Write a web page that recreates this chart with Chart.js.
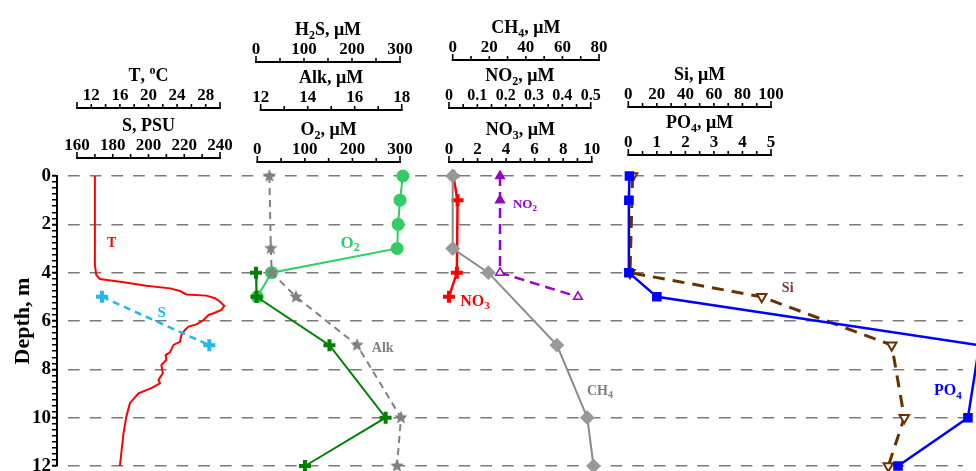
<!DOCTYPE html>
<html>
<head>
<meta charset="utf-8">
<title>Depth profiles</title>
<script src="https://cdn.jsdelivr.net/npm/chart.js@4.4.1/dist/chart.umd.min.js"></script>
<style>
    html, body { margin: 0; padding: 0; background: #fff; overflow: hidden; }
    canvas { display: block; }
</style>
</head>
<body>
<!-- a bit taller than the window so the 12 m line sits near the bottom edge, as in the original -->
<canvas id="profiles" width="976" height="482"></canvas>
<script>
// Temperature profile (CTD)
const tDepth = [0, 3.68, 4.10, 4.26, 4.40, 4.54, 4.65, 4.76, 4.90, 4.95, 5.06, 5.20, 5.37, 5.54, 5.68, 5.75, 5.96, 6.14, 6.23, 6.37, 6.58, 6.86, 6.99, 7.30, 7.41, 7.61, 7.82, 8.16, 8.44, 8.58, 8.78, 8.99, 9.40, 9.96, 10.65, 12];
const tValue = [12.5, 12.5, 12.7, 13.2, 16.5, 19.7, 23.0, 24.4, 25.3, 28.1, 29.3, 30.0, 30.6, 30.2, 29.1, 28.4, 27.7, 26.7, 25.6, 25.1, 24.6, 24.4, 23.5, 23.0, 22.4, 22.5, 21.8, 22.0, 21.4, 21.6, 20.4, 18.6, 17.4, 16.9, 16.5, 16.0];

const sDepth = [5, 7];
const sValue = [174, 234];

const o2Depth = [0, 1, 2, 3, 4, 5];
const o2Value = [306, 300, 296, 294, 30, 0];

const h2sDepth = [4, 5, 7, 10, 12];
const h2sValue = [0, 1, 153, 270, 102];

const alkDepth = [0, 3, 4, 5, 7, 10, 12];
const alkValue = [12.37, 12.43, 12.47, 13.5, 16.1, 17.97, 17.8];

const ch4Depth = [0, 3, 4, 7, 10, 12];
const ch4Value = [0, 0, 19.5, 57, 73.6, 77];

const no3Depth = [0, 1, 4, 5];
const no3Value = [0.3, 0.6, 0.55, 0];

const no2Depth = [0, 1, 4, 5];
const no2Value = [0.18, 0.18, 0.18, 0.455];

const siDepth = [0, 4, 5, 7, 10, 12];
const siValue = [3, 1.2, 93.5, 184.6, 193.4, 182.2];

const po4Depth = [0, 1, 4, 5, 7, 10, 12];
const po4Value = [0.04, 0.02, 0.02, 1.0, 12.3, 11.9, 9.45];

// tick labels
const depthLabels = [0, 2, 4, 6, 8, 10, 12];
const tLabels = [12, 16, 20, 24, 28];
const sLabels = [160, 180, 200, 220, 240];
const h2sLabels = [0, 100, 200, 300];
const alkLabels = [12, 14, 16, 18];
const o2Labels = [0, 100, 200, 300];
const ch4Labels = [0, 20, 40, 60, 80];
const no2Labels = [0, 0.1, 0.2, 0.3, 0.4, 0.5];
const no3Labels = [0, 2, 4, 6, 8, 10];
const siLabels = [0, 20, 40, 60, 80, 100];
const po4Labels = [0, 1, 2, 3, 4, 5];

const FONT = '"Liberation Serif", "Times New Roman", serif';
const AREA_LEFT = 57;
const AREA_RIGHT = 963;

// where each top key axis sits (pixels) and what range it covers
const topAxes = [
    { id: 'xT',   title: 'T, ^oC',     from: 10,  to: 30,  left: 77,    right: 220,   step: 2,    labels: tLabels,   lineY: 108 },
    { id: 'xS',   title: 'S, PSU',     from: 160, to: 240, left: 77,    right: 220,   step: 10,   labels: sLabels,   lineY: 158 },
    { id: 'xH2S', title: 'H_2S, μM',   from: 0,   to: 300, left: 256,   right: 400,   step: 50,   labels: h2sLabels, lineY: 62 },
    { id: 'xAlk', title: 'Alk, μM',    from: 12,  to: 18,  left: 260.7, right: 401.7, step: 1,    labels: alkLabels, lineY: 110 },
    { id: 'xO2',  title: 'O_2, μM',    from: 0,   to: 300, left: 257.3, right: 400,   step: 50,   labels: o2Labels,  lineY: 162 },
    { id: 'xCH4', title: 'CH_4, μM',   from: 0,   to: 80,  left: 452.7, right: 599,   step: 10,   labels: ch4Labels, lineY: 60 },
    { id: 'xNO2', title: 'NO_2, μM',   from: 0,   to: 0.5, left: 449,   right: 590.7, step: 0.05, labels: no2Labels, lineY: 108, small: true },
    { id: 'xNO3', title: 'NO_3, μM',   from: 0,   to: 10,  left: 449,   right: 591.7, step: 1,    labels: no3Labels, lineY: 162 },
    { id: 'xSi',  title: 'Si, μM',     from: 0,   to: 100, left: 628.3, right: 771,   step: 10,   labels: siLabels,  lineY: 107 },
    { id: 'xPO4', title: 'PO_4, μM',   from: 0,   to: 5,   left: 628.3, right: 771,   step: 0.5,  labels: po4Labels, lineY: 155 }
];

// in-plot series names, anchored in data units
const seriesNames = [
    { text: 'T',    axis: 'xT',   x: 14.85, depth: 2.72, color: '#ff0000', size: 14 },
    { text: 'S',    axis: 'xS',   x: 207.4, depth: 5.61, color: '#22b8ee', size: 15 },
    { text: 'O_2',  axis: 'xO2',  x: 195,   depth: 2.72, color: '#33cc66', size: 17 },
    { text: 'Alk',  axis: 'xAlk', x: 17.19, depth: 7.06, color: '#808080', size: 14 },
    { text: 'NO_2', axis: 'xNO2', x: 0.268, depth: 1.13, color: '#9900cc', size: 13 },
    { text: 'NO_3', axis: 'xNO3', x: 1.82,  depth: 5.13, color: '#ff0000', size: 16 },
    { text: 'CH_4', axis: 'xCH4', x: 80.5,  depth: 8.85, color: '#808080', size: 14 },
    { text: 'Si',   axis: 'xSi',  x: 111.7, depth: 4.58, color: '#7b3b3b', size: 14 },
    { text: 'PO_4', axis: 'xPO4', x: 11.2,  depth: 8.85, color: '#0000ff', size: 16 }
];

function points(depths, values) {
    return depths.map((d, i) => ({ x: values[i], y: d }));
}

// stretch the key range so it lands on its pixel span inside the plot area
function scaleFor(ax) {
    const perPx = (ax.to - ax.from) / (ax.right - ax.left);
    return {
        type: 'linear',
        display: false,
        min: ax.from - (ax.left - AREA_LEFT) * perPx,
        max: ax.to + (AREA_RIGHT - ax.right) * perPx
    };
}

// text with '_x' subscripts and '^x' superscripts
function drawRich(ctx, text, x, y, size, color) {
    const parts = [];
    for (let i = 0; i < text.length; i++) {
        const c = text[i];
        if ((c === '_' || c === '^') && i + 1 < text.length) {
            parts.push({ s: text[i + 1], k: c });
            i++;
        } else {
            parts.push({ s: c, k: '' });
        }
    }
    const big = `bold ${size}px ${FONT}`;
    const small = `bold ${Math.round(size * 0.68)}px ${FONT}`;
    let width = 0;
    parts.forEach(p => {
        ctx.font = p.k ? small : big;
        p.w = ctx.measureText(p.s).width;
        width += p.w;
    });
    let cx = x - width / 2;
    ctx.fillStyle = color;
    ctx.textAlign = 'left';
    ctx.textBaseline = 'alphabetic';
    parts.forEach(p => {
        ctx.font = p.k ? small : big;
        const dy = p.k === '_' ? size * 0.22 : p.k === '^' ? -size * 0.38 : 0;
        ctx.fillText(p.s, cx, y + dy);
        cx += p.w;
    });
}

function starImage(color, r) {
    const c = document.createElement('canvas');
    c.width = c.height = r * 2 + 2;
    const g = c.getContext('2d');
    g.fillStyle = color;
    g.beginPath();
    for (let i = 0; i < 10; i++) {
        const a = -Math.PI / 2 + i * Math.PI / 5;
        const rr = i % 2 ? r * 0.45 : r;
        g.lineTo(c.width / 2 + rr * Math.cos(a), c.height / 2 + rr * Math.sin(a));
    }
    g.closePath();
    g.fill();
    return c;
}

const keyAxesPlugin = {
    id: 'keyAxes',
    afterDraw(chart) {
        const ctx = chart.ctx;
        ctx.save();
        topAxes.forEach(ax => {
            const sc = chart.scales[ax.id];
            const x0 = sc.getPixelForValue(ax.from);
            const x1 = sc.getPixelForValue(ax.to);
            ctx.strokeStyle = '#000';
            ctx.lineWidth = 2;
            ctx.beginPath();
            ctx.moveTo(x0 - 1, ax.lineY);
            ctx.lineTo(x1 + 1, ax.lineY);
            ctx.stroke();
            const n = Math.round((ax.to - ax.from) / ax.step);
            ctx.lineWidth = 1.6;
            for (let i = 0; i <= n; i++) {
                const px = sc.getPixelForValue(ax.from + i * ax.step);
                const len = (i === 0 || i === n) ? 6 : 4;
                ctx.beginPath();
                ctx.moveTo(px, ax.lineY);
                ctx.lineTo(px, ax.lineY - len);
                ctx.stroke();
            }
            ctx.fillStyle = '#000';
            ctx.font = `bold ${ax.small ? 16 : 17}px ${FONT}`;
            ctx.textAlign = 'center';
            ctx.textBaseline = 'alphabetic';
            ax.labels.forEach(v => {
                ctx.fillText(String(v), sc.getPixelForValue(v), ax.lineY - 8);
            });
            drawRich(ctx, ax.title, (x0 + x1) / 2, ax.lineY - 27, 18, '#000');
        });

        seriesNames.forEach(l => {
            const x = chart.scales[l.axis].getPixelForValue(l.x);
            const y = chart.scales.y.getPixelForValue(l.depth);
            drawRich(ctx, l.text, x, y + l.size * 0.35, l.size, l.color);
        });
        ctx.restore();
    }
};

const scales = {
    y: {
        type: 'linear',
        position: 'left',
        reverse: true,
        min: 0,
        max: 12,
        afterFit(scale) {
            scale.width = AREA_LEFT;
        },
        title: {
            display: true,
            text: 'Depth, m',
            color: '#000',
            font: { family: FONT, size: 22, weight: 'bold' },
            padding: { top: 10, bottom: 0 }
        },
        ticks: {
            stepSize: 0.25,
            autoSkip: false,
            color: '#000',
            padding: 1,
            font: { family: FONT, size: 19, weight: 'bold' },
            callback: v => depthLabels.includes(v) ? String(v) : ''
        },
        grid: {
            color: ctx => (ctx.tick && ctx.tick.value % 2 === 0) ? '#7a7a7a' : 'rgba(0,0,0,0)',
            lineWidth: 1.5,
            tickColor: '#000',
            tickLength: 5,
            tickWidth: ctx => (ctx.tick && ctx.tick.value % 2 === 0) ? 2 : 1.5
        },
        border: { display: true, color: '#000', width: 2, dash: [11.7, 10], dashOffset: 11.7 }
    }
};
topAxes.forEach(ax => { scales[ax.id] = scaleFor(ax); });

const starGray = starImage('#808080', 7);

const datasets = [
    {
        label: 'S', xAxisID: 'xS', data: points(sDepth, sValue),
        borderColor: '#22b8ee', borderWidth: 2.5, borderDash: [7, 5],
        pointStyle: 'cross', pointRadius: 6, pointBorderWidth: 4, pointBorderColor: '#22b8ee'
    },
    {
        label: 'T', xAxisID: 'xT', data: points(tDepth, tValue),
        borderColor: '#ff0000', borderWidth: 2, pointRadius: 0
    },
    {
        label: 'H2S', xAxisID: 'xH2S', data: points(h2sDepth, h2sValue),
        borderColor: '#008000', borderWidth: 2,
        pointStyle: 'cross', pointRadius: 6, pointBorderWidth: 4, pointBorderColor: '#008000'
    },
    {
        label: 'Alk', xAxisID: 'xAlk', data: points(alkDepth, alkValue),
        borderColor: '#808080', borderWidth: 2, borderDash: [7, 5],
        pointStyle: starGray, pointRadius: 7
    },
    {
        label: 'O2', xAxisID: 'xO2', data: points(o2Depth, o2Value),
        borderColor: '#33cc66', borderWidth: 2,
        pointStyle: 'circle', pointRadius: 5.5, pointBackgroundColor: '#33cc66', pointBorderColor: '#33cc66'
    },
    {
        label: 'CH4', xAxisID: 'xCH4', data: points(ch4Depth, ch4Value),
        borderColor: '#8a8a8a', borderWidth: 2,
        pointStyle: 'rectRot', pointRadius: 6, pointBackgroundColor: '#999999', pointBorderColor: '#999999'
    },
    {
        label: 'NO3', xAxisID: 'xNO3', data: points(no3Depth, no3Value),
        borderColor: '#ff0000', borderWidth: 2.5,
        pointStyle: 'cross', pointRadius: 6, pointBorderWidth: 4, pointBorderColor: '#ff0000'
    },
    {
        label: 'NO2', xAxisID: 'xNO2', data: points(no2Depth, no2Value),
        borderColor: '#9900cc', borderWidth: 2.5, borderDash: [10, 6],
        pointStyle: 'triangle', pointRadius: 5, pointBorderWidth: 1.5, pointBorderColor: '#9900cc',
        pointBackgroundColor: ['#9900cc', '#9900cc', '#ffffff', '#ffffff']
    },
    {
        label: 'PO4', xAxisID: 'xPO4', data: points(po4Depth, po4Value),
        borderColor: '#0000ff', borderWidth: 2.5,
        pointStyle: 'rect', pointRadius: 5, pointBackgroundColor: '#0000ff', pointBorderColor: '#0000ff'
    },
    {
        label: 'Si', xAxisID: 'xSi', data: points(siDepth, siValue),
        borderColor: '#663300', borderWidth: 3, borderDash: [12, 8],
        pointStyle: 'triangle', pointRotation: 180, pointRadius: 5.5, pointBorderWidth: 2,
        pointBackgroundColor: '#ffffff', pointBorderColor: '#663300'
    }
];
datasets.forEach(ds => {
    ds.yAxisID = 'y';
    ds.clip = false;
    ds.tension = 0;
    ds.fill = false;
});

const chart = new Chart(document.getElementById('profiles'), {
    type: 'line',
    data: { datasets },
    options: {
        responsive: false,
        devicePixelRatio: 1,
        animation: false,
        layout: { padding: { top: 176, right: 976 - AREA_RIGHT, bottom: 16, left: 0 } },
        plugins: {
            legend: { display: false },
            tooltip: { enabled: false }
        },
        scales
    },
    plugins: [keyAxesPlugin]
});
</script>
</body>
</html>
